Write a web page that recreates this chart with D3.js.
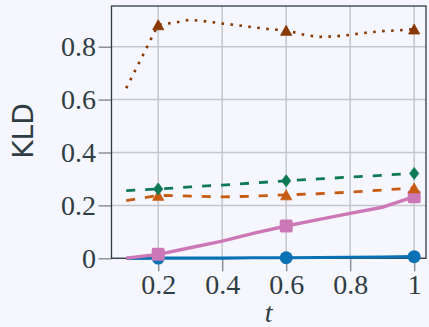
<!DOCTYPE html>
<html>
<head>
<meta charset="utf-8">
<script src="https://cdn.jsdelivr.net/npm/d3@7"></script>
<style>
  html, body { margin: 0; padding: 0; background: #f6f6fe; }
  svg { display: block; }
</style>
</head>
<body>
<div class="container"></div>
<script>
// t values
var tSteps = [0.1, 0.2, 0.3, 0.4, 0.5, 0.6, 0.7, 0.8, 0.9, 1.0];
var tFine = [0.1, 0.15, 0.2, 0.25, 0.3, 0.35, 0.4, 0.45, 0.5, 0.55, 0.6,
             0.65, 0.7, 0.75, 0.8, 0.85, 0.9, 0.95, 1.0];
var markerT = [0.2, 0.6, 1.0];

var blueVals   = [0, 0.001, 0.001, 0.001, 0.002, 0.002, 0.003, 0.004, 0.005, 0.006];
var pinkVals   = [0, 0.015, 0.040, 0.065, 0.095, 0.122, 0.146, 0.170, 0.193, 0.233];
var orangeVals = [0.218, 0.238, 0.235, 0.232, 0.235, 0.240, 0.244, 0.250, 0.258, 0.266];
var greenVals  = [0.256, 0.262, 0.270, 0.277, 0.285, 0.293, 0.300, 0.307, 0.314, 0.321];
var brownVals  = [0.643, 0.763, 0.883, 0.891, 0.902, 0.896, 0.888, 0.881, 0.873, 0.866,
                  0.862, 0.847, 0.837, 0.839, 0.845, 0.853, 0.859, 0.862, 0.867];

var xTicks = [0.2, 0.4, 0.6, 0.8, 1];
var xTickLabels = ["0.2", "0.4", "0.6", "0.8", "1"];
var yTicks = [0, 0.2, 0.4, 0.6, 0.8];
var yTickLabels = ["0", "0.2", "0.4", "0.6", "0.8"];

const WIDTH = 429;
const HEIGHT = 327;
const LEFT = 111.5, TOP = 6, RIGHT = 426, BOTTOM = 258.3;

const INK = "#2f3d45";
const SERIF = "'Liberation Serif', 'DejaVu Serif', serif";

var svg = d3.select('.container').append('svg')
  .attr('width', WIDTH)
  .attr('height', HEIGHT);

svg.append('rect')
  .attr('width', WIDTH).attr('height', HEIGHT)
  .attr('fill', '#f6f6fe');

var xScale = d3.scaleLinear().domain([0.054, 1.037]).range([LEFT, RIGHT]);
var yScale = d3.scaleLinear().domain([0, 0.954]).range([BOTTOM, TOP]);

// grid
var grid = svg.append('g');
grid.selectAll('line.gx').data(xTicks).enter().append('line')
  .attr('x1', d => xScale(d)).attr('x2', d => xScale(d))
  .attr('y1', TOP).attr('y2', BOTTOM)
  .attr('stroke', '#c6c7cc').attr('stroke-width', 1.5);
grid.selectAll('line.gy').data(yTicks).enter().append('line')
  .attr('y1', d => yScale(d)).attr('y2', d => yScale(d))
  .attr('x1', LEFT).attr('x2', RIGHT)
  .attr('stroke', '#c6c7cc').attr('stroke-width', 1.5);

// axes
var xAxis = d3.axisBottom(xScale).tickValues(xTicks)
  .tickFormat((d, i) => xTickLabels[i]).tickSize(13).tickPadding(3);
var yAxis = d3.axisLeft(yScale).tickValues(yTicks)
  .tickFormat((d, i) => yTickLabels[i]).tickSize(13).tickPadding(2.5);

function styleAxis(g) {
  g.attr('font-family', null).attr('font-size', null);
  g.select('.domain').remove();
  g.selectAll('.tick line').attr('stroke', '#8d9297').attr('stroke-width', 1.5);
  g.selectAll('.tick text')
    .attr('fill', INK)
    .attr('font-family', SERIF)
    .attr('font-size', 28);
}

svg.append('g').attr('transform', 'translate(0,' + BOTTOM + ')').call(xAxis).call(styleAxis);
svg.append('g').attr('transform', 'translate(' + LEFT + ',0)').call(yAxis).call(styleAxis);

// frame
svg.append('rect')
  .attr('x', LEFT).attr('y', TOP)
  .attr('width', RIGHT - LEFT).attr('height', BOTTOM - TOP)
  .attr('fill', 'none').attr('stroke', INK).attr('stroke-width', 1.3);

// axis titles
svg.append('text')
  .attr('transform', 'translate(33,131) rotate(-90)')
  .attr('text-anchor', 'middle')
  .attr('fill', INK)
  .attr('font-family', "'DejaVu Sans', sans-serif")
  .attr('font-size', 28)
  .text('KLD');

svg.append('text')
  .attr('x', (LEFT + RIGHT) / 2).attr('y', 322)
  .attr('text-anchor', 'middle')
  .attr('fill', INK)
  .attr('font-family', SERIF)
  .attr('font-style', 'italic')
  .attr('font-size', 28)
  .text('t');

var series = [
  {name: 'blue',   t: tSteps, v: blueVals,   color: '#0a72b4', dash: null,      width: 3.2, marker: 'circle'},
  {name: 'pink',   t: tSteps, v: pinkVals,   color: '#cc78b6', dash: null,      width: 3.4, marker: 'square'},
  {name: 'orange', t: tSteps, v: orangeVals, color: '#c85b12', dash: '9,10',    width: 2.8, marker: 'triangle'},
  {name: 'green',  t: tSteps, v: greenVals,  color: '#0e7a55', dash: '9,10',    width: 2.8, marker: 'diamond'},
  {name: 'brown',  t: tFine,  v: brownVals,  color: '#883800', dash: '2.6,6.4', width: 2.6, marker: 'triangle'}
];

var line = d3.line()
  .x(d => xScale(d[0]))
  .y(d => yScale(d[1]));

var markerPaths = {
  triangle: 'M0,-5 L5.6,5 L-5.6,5 Z',
  diamond: 'M0,-6 L4.6,0 L0,6 L-4.6,0 Z'
};

series.forEach(function (s) {
  var pts = s.t.map((t, i) => [t, s.v[i]]);
  svg.append('path')
    .datum(pts)
    .attr('d', line)
    .attr('fill', 'none')
    .attr('stroke', s.color)
    .attr('stroke-width', s.width)
    .attr('stroke-dasharray', s.dash);

  var mpts = pts.filter(p => markerT.some(m => Math.abs(m - p[0]) < 1e-9));
  var g = svg.append('g');
  if (s.marker === 'circle') {
    g.selectAll('circle').data(mpts).enter().append('circle')
      .attr('cx', d => xScale(d[0])).attr('cy', d => yScale(d[1]))
      .attr('r', 6.5).attr('fill', s.color);
  } else if (s.marker === 'square') {
    g.selectAll('rect').data(mpts).enter().append('rect')
      .attr('x', d => xScale(d[0]) - 6.5).attr('y', d => yScale(d[1]) - 6.5)
      .attr('width', 13).attr('height', 13).attr('rx', 2)
      .attr('fill', s.color);
  } else {
    g.selectAll('path').data(mpts).enter().append('path')
      .attr('transform', d => 'translate(' + xScale(d[0]) + ',' + yScale(d[1]) + ')')
      .attr('d', markerPaths[s.marker])
      .attr('fill', s.color)
      .attr('stroke', s.color).attr('stroke-width', 0.8).attr('stroke-linejoin', 'round');
  }
});
</script>
</body>
</html>
